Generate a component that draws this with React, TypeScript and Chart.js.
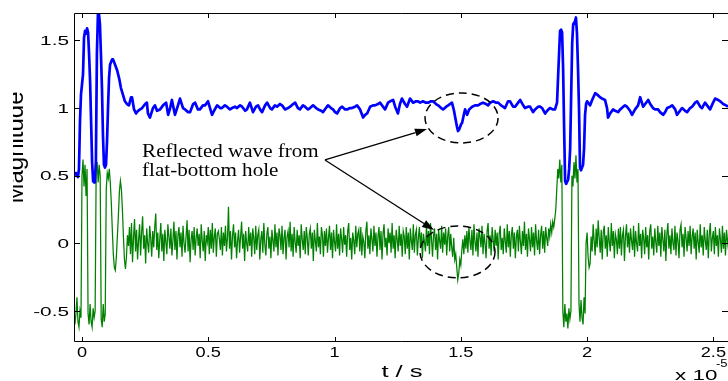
import React, { useEffect, useRef } from "react";
import { Chart, registerables } from "chart.js";

Chart.register(...registerables);

// ---- axis ticks (time in units of 1e-5 s) ----
const xTicks = [0, 0.5, 1, 1.5, 2, 2.5];
const xTickLabels = ["0", "0.5", "1", "1.5", "2", "2.5"];
const yTicks = [-0.5, 0, 0.5, 1, 1.5];
const yTickLabels = ["-0.5", "0", "0.5", "1", "1.5"];
const xRange = [-0.0317, 2.558];
const yRange = [-0.73, 1.703];

// ---- blue envelope (time, magnitude) ----
const blueT = [-0.032,-0.024,-0.016,-0.012,-0.008,-0.004,0.004,0.008,0.012,0.016,0.020,0.024,0.028,0.032,0.036,0.040,0.044,0.048,0.051,0.055,0.059,0.063,0.067,0.071,0.075,0.079,0.083,0.087,0.091,0.095,0.099,0.103,0.107,0.111,0.119,0.123,0.131,0.139,0.147,0.154,0.162,0.170,0.178,0.186,0.194,0.198,0.206,0.214,0.222,0.230,0.238,0.250,0.257,0.261,0.269,0.281,0.289,0.297,0.309,0.321,0.333,0.341,0.349,0.356,0.368,0.380,0.388,0.400,0.408,0.420,0.428,0.440,0.448,0.459,0.467,0.479,0.487,0.499,0.515,0.523,0.535,0.547,0.554,0.566,0.574,0.586,0.594,0.606,0.614,0.626,0.634,0.646,0.653,0.665,0.677,0.689,0.697,0.705,0.713,0.725,0.733,0.745,0.752,0.764,0.772,0.784,0.792,0.804,0.816,0.824,0.836,0.844,0.855,0.863,0.875,0.883,0.895,0.903,0.915,0.927,0.935,0.947,0.954,0.966,0.974,0.986,0.994,1.002,1.010,1.022,1.030,1.042,1.050,1.061,1.069,1.081,1.089,1.101,1.109,1.113,1.121,1.129,1.141,1.152,1.160,1.172,1.180,1.192,1.200,1.212,1.220,1.232,1.240,1.251,1.259,1.267,1.279,1.287,1.299,1.311,1.323,1.331,1.339,1.350,1.362,1.370,1.382,1.390,1.402,1.410,1.422,1.430,1.442,1.450,1.457,1.465,1.473,1.477,1.485,1.489,1.493,1.501,1.505,1.513,1.517,1.521,1.525,1.533,1.545,1.556,1.568,1.576,1.588,1.600,1.608,1.616,1.628,1.640,1.648,1.659,1.667,1.675,1.687,1.695,1.707,1.715,1.727,1.735,1.747,1.754,1.766,1.774,1.786,1.794,1.806,1.814,1.822,1.834,1.842,1.853,1.865,1.873,1.881,1.885,1.889,1.893,1.897,1.901,1.905,1.909,1.913,1.917,1.925,1.929,1.933,1.937,1.941,1.945,1.948,1.952,1.956,1.960,1.964,1.968,1.972,1.976,1.984,1.988,1.992,1.996,2.000,2.004,2.012,2.020,2.032,2.040,2.051,2.059,2.071,2.079,2.083,2.091,2.103,2.111,2.123,2.131,2.143,2.150,2.158,2.170,2.178,2.190,2.202,2.210,2.222,2.230,2.242,2.250,2.261,2.269,2.281,2.289,2.301,2.309,2.317,2.329,2.337,2.349,2.356,2.368,2.376,2.388,2.396,2.408,2.416,2.428,2.436,2.448,2.455,2.467,2.475,2.487,2.499,2.507,2.519,2.527,2.539,2.550,2.558];
const blueY = [0.50,0.52,0.49,0.55,0.90,1.10,1.25,1.52,1.57,1.55,1.59,1.56,1.40,1.20,0.90,0.60,0.46,0.45,0.47,0.60,1.40,1.69,1.70,1.62,1.40,1.15,0.80,0.58,0.56,0.58,0.75,1.00,1.22,1.32,1.36,1.36,1.32,1.28,1.22,1.15,1.10,1.05,1.03,1.02,1.08,1.08,0.99,0.96,0.98,0.99,1.00,1.03,1.04,0.96,0.93,1.00,1.02,0.98,0.99,1.02,1.04,0.95,1.00,1.06,0.95,1.02,1.07,1.00,0.99,0.97,0.97,1.03,1.04,0.99,0.99,1.02,1.02,1.05,0.95,0.98,1.02,1.00,1.00,1.02,1.01,0.99,1.00,1.01,1.00,1.02,1.01,0.98,0.99,1.04,0.97,1.01,1.02,0.99,0.97,1.02,1.04,1.00,0.99,1.02,1.01,1.03,1.02,0.99,1.00,1.01,1.03,1.04,1.00,0.99,1.02,1.01,0.99,1.00,1.02,1.00,0.99,0.98,0.97,1.00,1.02,1.00,0.99,0.97,0.96,1.00,1.01,0.99,0.99,1.00,1.00,1.01,1.02,0.99,0.95,0.93,0.95,0.96,1.01,1.02,1.02,1.03,1.04,1.01,0.99,1.04,1.05,1.06,1.01,0.96,1.03,1.07,1.03,1.01,1.07,1.04,1.05,1.05,1.04,1.05,1.04,1.04,1.05,1.05,1.03,1.02,1.00,0.99,1.01,1.02,1.03,1.04,0.98,0.94,0.86,0.83,0.84,0.88,0.89,0.96,0.99,0.97,0.95,0.99,1.01,1.02,1.02,1.03,1.04,1.03,1.02,1.04,1.05,1.04,1.04,1.02,1.01,1.00,1.05,1.05,1.01,1.01,1.04,1.06,1.02,1.00,1.01,1.01,0.97,0.99,1.01,1.01,1.00,0.96,0.98,1.00,0.99,0.99,1.04,1.22,1.40,1.57,1.58,1.56,1.30,0.86,0.46,0.44,0.47,0.55,0.70,1.10,1.48,1.62,1.63,1.64,1.67,1.55,1.30,1.00,0.56,0.54,0.58,0.70,0.95,1.03,1.05,1.04,1.02,1.06,1.11,1.10,1.08,1.07,1.06,1.00,0.93,0.96,0.99,0.98,0.97,0.99,1.01,1.02,1.01,0.98,0.95,0.99,1.02,1.08,1.01,1.03,1.06,1.03,1.00,0.99,0.99,0.97,0.95,0.97,1.00,1.01,1.02,0.99,0.95,0.98,1.00,0.98,0.97,1.00,1.01,1.04,1.05,1.01,1.00,1.04,1.02,0.99,1.04,1.07,1.06,1.05,1.03,1.02,1.01];

// ---- green raw signal, sampled every greenDt starting at greenT0 ----
const greenT0 = -0.032;
const greenDt = 0.004;
const greenY = [
-0.48,-0.60,-0.52,-0.40,-0.58,-0.62,-0.50,-0.55,0.50,0.62,
0.42,0.58,0.35,0.55,-0.52,-0.60,-0.45,-0.58,-0.62,-0.48,
-0.55,-0.50,0.52,0.60,0.45,0.58,0.50,-0.56,-0.62,-0.45,
-0.58,-0.52,0.40,0.52,0.48,0.55,0.45,0.30,0.10,-0.08,
-0.18,-0.20,-0.10,0.05,0.20,0.38,0.46,0.40,0.25,0.05,
-0.12,-0.19,-0.10,0.06,-0.02,0.12,-0.08,0.15,-0.14,0.04,
0.18,-0.06,0.10,-0.12,0.02,0.14,-0.09,0.08,0.20,-0.04,
0.06,-0.15,0.11,0.00,-0.07,0.13,0.04,-0.10,0.09,-0.03,
0.12,0.22,-0.05,0.08,-0.11,0.03,0.15,-0.06,0.07,-0.13,
0.10,0.01,-0.08,0.14,0.05,-0.04,0.11,-0.09,0.02,0.16,
-0.05,0.09,-0.12,0.06,0.12,-0.03,0.08,-0.10,0.13,0.00,
-0.07,0.05,0.17,-0.06,0.10,-0.14,0.03,0.09,-0.05,0.12,
-0.09,0.04,0.11,-0.02,0.07,-0.11,0.14,0.02,-0.06,0.09,
-0.13,0.06,0.01,0.12,-0.08,0.10,-0.04,0.15,-0.07,0.05,
0.11,-0.10,0.07,0.09,0.03,-0.05,0.12,-0.09,0.08,-0.02,
0.13,-0.06,0.04,0.27,-0.04,0.09,-0.12,0.06,0.14,-0.03,
0.08,-0.11,0.02,0.10,-0.07,0.05,0.16,-0.04,0.07,-0.13,
0.09,0.00,-0.06,0.12,-0.02,0.08,-0.10,0.11,0.04,-0.08,
0.13,-0.05,0.06,0.10,-0.12,0.03,0.09,-0.07,0.15,-0.01,
-0.09,0.07,0.12,-0.04,0.05,-0.11,0.10,0.02,-0.06,0.14,
-0.03,0.08,-0.09,0.11,0.06,-0.05,0.13,-0.08,0.04,0.10,
-0.12,0.05,0.09,-0.03,0.16,-0.06,0.07,-0.10,0.12,0.01,
-0.07,0.10,-0.02,0.06,-0.11,0.14,0.03,-0.05,0.09,-0.08,
0.12,0.04,-0.09,0.07,0.11,-0.04,0.08,-0.13,0.10,0.02,
-0.06,0.15,-0.03,0.05,-0.08,0.12,0.06,-0.10,0.09,-0.02,
0.11,-0.07,0.04,0.13,-0.05,0.08,-0.11,0.10,0.01,-0.06,
0.14,-0.04,0.07,-0.09,0.11,0.03,-0.07,0.12,-0.01,0.06,
-0.10,0.09,0.15,-0.05,0.04,-0.12,0.08,0.02,-0.08,0.13,
-0.03,0.07,0.10,-0.06,0.12,-0.09,0.05,0.01,-0.11,0.09,
0.16,-0.04,0.06,-0.08,0.11,0.03,-0.06,0.13,-0.02,0.08,
-0.10,0.05,0.12,-0.05,0.09,-0.12,0.07,0.14,-0.03,0.04,
-0.09,0.11,0.00,0.08,-0.07,0.15,-0.04,0.06,-0.11,0.10,
0.03,-0.06,0.13,-0.02,0.07,-0.10,0.09,0.05,-0.08,0.12,
-0.04,0.08,-0.12,0.11,0.02,-0.05,0.14,-0.07,0.06,0.10,
-0.09,0.04,0.12,-0.03,0.08,-0.11,0.07,0.01,-0.06,0.13,
-0.02,0.09,-0.08,0.15,0.03,-0.10,0.06,0.11,-0.05,0.07,
-0.12,0.10,0.02,-0.04,0.13,-0.07,0.08,-0.01,0.11,-0.09,
0.05,0.12,-0.06,0.07,-0.03,-0.10,0.04,-0.12,-0.08,-0.18,
-0.27,-0.22,-0.12,-0.16,-0.05,0.03,-0.08,0.06,-0.04,0.09,
-0.07,0.12,0.02,-0.05,0.10,-0.09,0.14,0.01,-0.06,0.08,
-0.10,0.11,0.05,-0.03,0.13,-0.08,0.07,0.00,-0.11,0.09,
0.15,-0.04,0.06,-0.09,0.12,0.03,-0.06,0.10,-0.02,0.08,
-0.12,0.07,0.13,-0.05,0.04,-0.08,0.11,0.02,-0.07,0.14,
-0.03,0.09,-0.10,0.06,0.12,-0.04,0.08,-0.11,0.05,0.10,
-0.06,0.13,0.01,-0.08,0.09,-0.02,0.16,-0.05,0.07,-0.10,
0.11,0.03,-0.06,0.12,-0.03,0.08,-0.09,0.14,0.02,-0.05,
0.10,-0.08,0.06,0.13,-0.04,0.09,-0.07,0.12,0.04,-0.02,
0.11,0.05,0.14,0.08,0.16,0.12,0.18,0.25,0.40,0.55,
0.48,0.62,0.45,0.58,-0.50,-0.62,-0.45,-0.58,-0.52,-0.63,
-0.48,-0.56,-0.50,0.50,0.42,0.60,0.48,0.65,0.45,0.55,
-0.45,-0.58,-0.42,-0.55,-0.60,-0.40,-0.52,0.00,0.08,-0.10,
-0.18,-0.15,0.05,-0.06,0.14,0.02,-0.09,0.11,-0.03,0.17,
0.04,-0.07,0.10,-0.12,0.08,0.13,-0.04,0.06,-0.10,0.12,
0.01,-0.06,0.15,-0.02,0.09,-0.11,0.07,0.03,-0.08,0.11,
-0.04,0.12,-0.09,0.06,0.10,-0.13,0.05,0.14,-0.03,0.08,
-0.07,0.11,0.02,-0.05,0.13,-0.10,0.09,0.00,-0.06,0.15,
-0.02,0.07,-0.11,0.10,0.04,-0.08,0.12,-0.03,0.06,-0.12,
0.09,0.14,-0.04,0.05,-0.09,0.11,0.01,-0.07,0.13,-0.02,
0.08,-0.10,0.12,0.03,-0.06,0.10,-0.13,0.07,0.15,-0.04,
0.06,-0.08,0.11,0.00,-0.05,0.13,-0.09,0.08,0.02,-0.11,
0.10,0.14,-0.03,0.07,-0.10,0.12,0.04,-0.06,0.09,-0.02,
0.13,-0.08,0.05,0.11,-0.04,0.08,-0.12,0.10,0.01,-0.07,
0.14,-0.03,0.06,-0.09,0.12,0.02,-0.05,0.10,-0.11,0.07,
0.15,-0.06,0.04,0.09,-0.08,0.12,-0.02,0.06,-0.10,0.11,
0.03,-0.07,0.13,-0.04,0.08,-0.09,0.10,0.02,-0.05
];

// ---- annotation (data units) ----
const noteLines = ["Reflected wave from", "flat-bottom hole"];
const noteX = 0.238;
const noteBaselines = [0.638, 0.498];
const arrowFrom = [0.962, 0.616];
const arrowTips = [
  [1.366, 0.845],
  [1.394, 0.098],
];
// centre t, centre y, radius t, radius y
const circles = [
  [1.503, 0.927, 0.1446, 0.185],
  [1.487, -0.064, 0.1485, 0.192],
];
const xLabel = "t / s";
const yLabel = "Magnitude";
const xMultiplier = ["x 10", "-5"];

function stretchText(
  ctx: CanvasRenderingContext2D,
  text: string,
  x: number,
  y: number,
  font: string,
  sx: number,
  align: CanvasTextAlign
) {
  ctx.save();
  ctx.font = font;
  ctx.textAlign = align;
  ctx.textBaseline = "alphabetic";
  ctx.translate(x, y);
  ctx.scale(sx, 1);
  ctx.fillText(text, 0, 0);
  ctx.restore();
}

const decor = {
  id: "decor",
  afterDatasetsDraw(chart: any) {
    const ctx: CanvasRenderingContext2D = chart.ctx;
    const xs = chart.scales.x;
    const ys = chart.scales.y;
    const a = chart.chartArea;
    ctx.save();
    ctx.fillStyle = "#000";
    ctx.strokeStyle = "#000";
    ctx.lineWidth = 1;

    // frame
    ctx.beginPath();
    ctx.moveTo(a.left + 0.5, a.top + 0.5);
    ctx.lineTo(a.right, a.top + 0.5);
    ctx.moveTo(a.left + 0.5, a.top + 0.5);
    ctx.lineTo(a.left + 0.5, a.bottom - 0.5);
    ctx.lineTo(a.right, a.bottom - 0.5);
    ctx.stroke();

    // ticks (inside, mirrored)
    ctx.beginPath();
    xTicks.forEach((v) => {
      const px = Math.round(xs.getPixelForValue(v)) + 0.5;
      ctx.moveTo(px, a.bottom);
      ctx.lineTo(px, a.bottom - 5);
      ctx.moveTo(px, a.top);
      ctx.lineTo(px, a.top + 5);
    });
    yTicks.forEach((v) => {
      const py = Math.round(ys.getPixelForValue(v)) + 0.5;
      ctx.moveTo(a.left, py);
      ctx.lineTo(a.left + 6, py);
      ctx.moveTo(a.right, py);
      ctx.lineTo(a.right - 6, py);
    });
    ctx.stroke();

    // tick labels
    xTicks.forEach((v, i) => {
      stretchText(ctx, xTickLabels[i], xs.getPixelForValue(v), a.bottom + 15, "14px 'Liberation Sans', Arial, sans-serif", 1.3, "center");
    });
    yTicks.forEach((v, i) => {
      stretchText(ctx, yTickLabels[i], a.left - 5, ys.getPixelForValue(v) + 4.7, "13px 'Liberation Sans', Arial, sans-serif", 1.6, "right");
    });

    // axis labels
    stretchText(ctx, xLabel, (a.left + a.right) / 2 + 1, a.bottom + 35, "16px 'Liberation Sans', Arial, sans-serif", 1.6, "center");
    stretchText(ctx, xMultiplier[0], 675, 380, "14px 'Liberation Sans', Arial, sans-serif", 1.6, "left");
    stretchText(ctx, xMultiplier[1], 716, 367, "10px 'Liberation Sans', Arial, sans-serif", 1.3, "left");

    // y label, partly clipped at the left edge
    ctx.save();
    ctx.beginPath();
    ctx.rect(13, 0, 60, chart.height);
    ctx.clip();
    ctx.translate(23, (a.top + a.bottom) / 2 - 30);
    ctx.rotate(-Math.PI / 2);
    ctx.font = "24px 'Liberation Sans', Arial, sans-serif";
    ctx.textAlign = "center";
    ctx.textBaseline = "alphabetic";
    ctx.fillText(yLabel, 0, 0);
    ctx.restore();

    // annotation text
    noteLines.forEach((t, i) => {
      stretchText(ctx, t, xs.getPixelForValue(noteX), ys.getPixelForValue(noteBaselines[i]), "18px 'Liberation Serif', 'Times New Roman', serif", 1.17, "left");
    });

    // arrows
    const ox = xs.getPixelForValue(arrowFrom[0]);
    const oy = ys.getPixelForValue(arrowFrom[1]);
    ctx.lineWidth = 1.3;
    arrowTips.forEach(([tt, ty]) => {
      const tx = xs.getPixelForValue(tt);
      const tyy = ys.getPixelForValue(ty);
      const ang = Math.atan2(tyy - oy, tx - ox);
      const len = 12;
      const half = 4;
      const bx = tx - len * Math.cos(ang);
      const by = tyy - len * Math.sin(ang);
      ctx.beginPath();
      ctx.moveTo(ox, oy);
      ctx.lineTo(bx, by);
      ctx.stroke();
      ctx.beginPath();
      ctx.moveTo(tx, tyy);
      ctx.lineTo(bx + half * Math.sin(ang), by - half * Math.cos(ang));
      ctx.lineTo(bx - half * Math.sin(ang), by + half * Math.cos(ang));
      ctx.closePath();
      ctx.fill();
    });

    // dashed ellipses
    ctx.setLineDash([8, 5]);
    ctx.lineWidth = 1.5;
    circles.forEach(([ct, cy, rt, ry]) => {
      const cx = xs.getPixelForValue(ct);
      const cyy = ys.getPixelForValue(cy);
      const rx = Math.abs(xs.getPixelForValue(ct + rt) - cx);
      const rpy = Math.abs(ys.getPixelForValue(cy + ry) - cyy);
      ctx.beginPath();
      ctx.ellipse(cx, cyy, rx, rpy, 0, 0, Math.PI * 2);
      ctx.stroke();
    });
    ctx.setLineDash([]);
    ctx.restore();
  },
};

export default function App() {
  const ref = useRef<HTMLCanvasElement>(null);
  useEffect(() => {
    const n = Math.min(blueT.length, blueY.length);
    const blueData = [];
    for (let i = 0; i < n; i++) blueData.push({ x: blueT[i], y: blueY[i] });
    const greenData = greenY.map((v, i) => ({ x: greenT0 + i * greenDt, y: v }));
    const chart = new Chart(ref.current as HTMLCanvasElement, {
      type: "line",
      data: {
        datasets: [
          {
            data: blueData,
            borderColor: "#0000ff",
            borderWidth: 2.7,
            pointRadius: 0,
            tension: 0,
            borderJoinStyle: "round",
            fill: false,
          },
          {
            data: greenData,
            borderColor: "#008000",
            borderWidth: 1.25,
            pointRadius: 0,
            tension: 0,
            fill: false,
          },
        ],
      },
      options: {
        animation: false,
        responsive: false,
        devicePixelRatio: 1,
        layout: { padding: { left: 74, right: 0, top: 13, bottom: 39 } },
        scales: {
          x: { type: "linear", min: xRange[0], max: xRange[1], display: false },
          y: { type: "linear", min: yRange[0], max: yRange[1], display: false },
        },
        plugins: { legend: { display: false }, tooltip: { enabled: false } },
        events: [],
      },
      plugins: [decor],
    } as any);
    return () => chart.destroy();
  }, []);
  return (
    <div style={{ position: "fixed", left: 0, top: 0, width: 728, height: 381, background: "#fff" }}>
      <canvas ref={ref} width={728} height={381} style={{ display: "block", width: 728, height: 381 }} />
    </div>
  );
}
